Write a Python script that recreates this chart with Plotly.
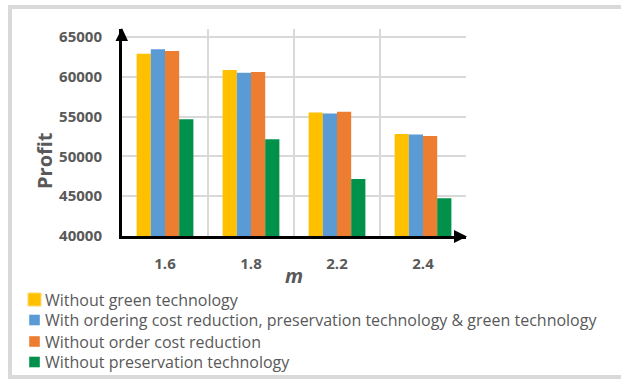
import plotly.graph_objects as go

# Profit for each value of m under four scenarios
m_values = ["1.6", "1.8", "2.2", "2.4"]
without_green = [62900, 60850, 55500, 52800]
with_all = [63450, 60500, 55400, 52750]
without_order_cost = [63250, 60600, 55600, 52550]
without_preservation = [54650, 52150, 47150, 44750]

series_names = [
    "Without green technology",
    "With ordering cost reduction, preservation technology & green technology",
    "Without order cost reduction",
    "Without preservation technology",
]
series_values = [without_green, with_all, without_order_cost, without_preservation]
series_colors = ["#FFC000", "#5B9BD5", "#ED7D31", "#00924A"]

y_ticks = [40000, 45000, 50000, 55000, 60000, 65000]

W, H = 621, 379
L, R, T, B = 122, 155, 29, 143
PW, PH = W - L - R, H - T - B
FONT = "Open Sans"
GREY = "#595959"


def px_x(px):
    return (px - L) / PW


def px_y(py):
    return (H - B - py) / PH


fig = go.Figure()
for name, vals, col in zip(series_names, series_values, series_colors):
    fig.add_trace(go.Bar(x=m_values, y=vals, name=name, showlegend=False,
                         marker=dict(color=col, line=dict(width=0))))

shapes = [
    # outer frame
    dict(type="rect", xref="paper", yref="paper",
         x0=px_x(10), x1=px_x(650), y0=px_y(377), y1=px_y(7),
         line=dict(color="#D9D9D9", width=4), layer="below"),
    # arrow heads on the axes
    dict(type="path", xref="paper", yref="paper",
         path=f"M{px_x(122)},{px_y(28)} L{px_x(115.5)},{px_y(41)} L{px_x(128)},{px_y(41)} Z",
         fillcolor="black", line=dict(width=0)),
    dict(type="path", xref="paper", yref="paper",
         path=f"M{px_x(467)},{px_y(236.5)} L{px_x(454)},{px_y(230)} L{px_x(454)},{px_y(243)} Z",
         fillcolor="black", line=dict(width=0)),
]

annotations = [
    dict(text="<b>Profit</b>", xref="paper", yref="paper", x=px_x(44), y=px_y(161),
         xanchor="center", yanchor="middle",
         textangle=-90, showarrow=False, font=dict(family=FONT, size=20, color=GREY)),
    dict(text="<b><i>m</i></b>", xref="paper", yref="paper", x=0.5, y=px_y(275),
         xanchor="center", yanchor="middle",
         showarrow=False, font=dict(family=FONT, size=20, color=GREY)),
]

# legend: colour key squares and series names below the chart
legend_rows = [299.5, 320, 341.5, 362]
for i, (name, col, cy) in enumerate(zip(series_names, series_colors, legend_rows)):
    half = 6.5 if i == 0 else 5.3
    cx = 34.5
    shapes.append(dict(type="rect", xref="paper", yref="paper",
                       x0=px_x(cx - half), x1=px_x(cx + half),
                       y0=px_y(cy + half), y1=px_y(cy - half),
                       fillcolor=col,
                       line=dict(color="#FFD966" if i == 0 else col, width=1 if i == 0 else 0)))
    annotations.append(dict(text=name, xref="paper", yref="paper",
                            x=px_x(43), y=px_y(cy), xanchor="left", yanchor="middle",
                            showarrow=False,
                            font=dict(family=FONT, size=16, color=GREY)))

fig.update_layout(
    width=W, height=H,
    margin=dict(l=L, r=R, t=T, b=B, pad=0),
    paper_bgcolor="white", plot_bgcolor="white",
    barmode="group", bargap=0.34, bargroupgap=0,
    font=dict(family=FONT, color=GREY),
    showlegend=False,
    shapes=shapes, annotations=annotations,
    xaxis=dict(type="category", tickson="boundaries", showgrid=True,
               gridcolor="#D9D9D9", gridwidth=1.5, showline=True,
               linecolor="black", linewidth=3, ticks="",
               ticklabelstandoff=12,
               tickfont=dict(family=FONT, size=15, color=GREY, weight="bold")),
    yaxis=dict(range=[40000, 66000], tickvals=y_ticks, showgrid=True,
               gridcolor="#D9D9D9", gridwidth=1.5, zeroline=False,
               showline=True, linecolor="black", linewidth=3, ticks="",
               ticklabelstandoff=14, tickformat="d",
               tickfont=dict(family=FONT, size=15, color=GREY, weight="bold")),
)

fig.write_html("out.html")
